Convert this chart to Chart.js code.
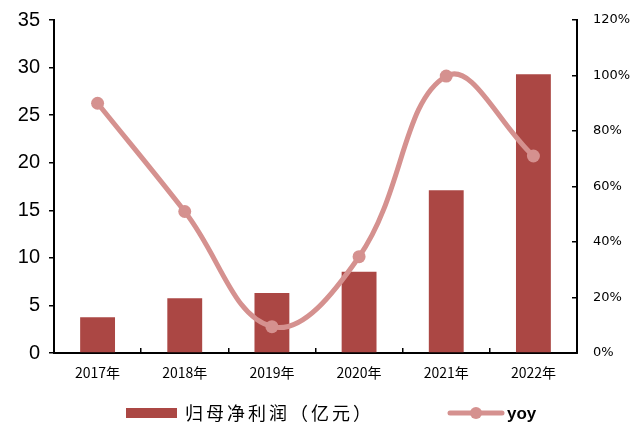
<!DOCTYPE html>
<html>
<head>
<meta charset="utf-8">
<script src="https://cdn.jsdelivr.net/npm/chart.js@4/dist/chart.umd.min.js"></script>
<style>
  body { margin: 0; background: #fff; }
  #wrap { width: 642px; height: 428px; }
</style>
</head>
<body>
<div id="wrap"><canvas id="profitChart" width="642" height="428"></canvas></div>
<script>
// Data
const years = ['2017年', '2018年', '2019年', '2020年', '2021年', '2022年'];
const netProfit = [3.75, 5.75, 6.3, 8.55, 17.1, 29.3];   // 归母净利润（亿元）
const yoy = [90, 51, 9.5, 34.7, 99.8, 71];                // %
const leftTicks = [0, 5, 10, 15, 20, 25, 30, 35];
const rightTicks = [0, 20, 40, 60, 80, 100, 120];

const barColor = '#AB4744';
const lineColor = '#D5918F';

// Legend drawn under the axes
const bottomLegend = {
  id: 'bottomLegend',
  afterDraw(chart) {
    const c = chart.ctx;
    const y = 413;
    c.save();
    // bar item
    c.fillStyle = barColor;
    c.fillRect(126, y - 5, 51, 10);
    c.fillStyle = '#000';
    c.textBaseline = 'middle';
    c.font = '18px "Noto Sans CJK SC"';
    c.letterSpacing = '3px';
    c.fillText(chart.data.datasets[0].label, 185, y);
    // line item
    c.letterSpacing = '0px';
    c.strokeStyle = lineColor;
    c.lineWidth = 5;
    c.lineCap = 'round';
    c.beginPath();
    c.moveTo(450, y);
    c.lineTo(502, y);
    c.stroke();
    c.fillStyle = lineColor;
    c.beginPath();
    c.arc(476, y, 6, 0, Math.PI * 2);
    c.fill();
    c.fillStyle = '#000';
    c.font = 'bold 17px "Liberation Sans"';
    c.fillText(chart.data.datasets[1].label, 507, y + 1);
    c.restore();
  }
};

function noPad(scale) {
  scale.paddingTop = 0;
  scale.paddingBottom = 0;
  scale.paddingLeft = 0;
  scale.paddingRight = 0;
}

const ctx = document.getElementById('profitChart').getContext('2d');
const chart = new Chart(ctx, {
  type: 'bar',
  data: {
    labels: years,
    datasets: [
      {
        type: 'bar',
        label: '归母净利润（亿元）',
        data: netProfit,
        backgroundColor: barColor,
        yAxisID: 'y',
        barPercentage: 0.4,
        categoryPercentage: 1.0,
        order: 2
      },
      {
        type: 'line',
        label: 'yoy',
        data: yoy,
        borderColor: lineColor,
        backgroundColor: lineColor,
        borderWidth: 5,
        pointRadius: 6.5,
        pointHoverRadius: 6.5,
        pointBorderWidth: 0,
        tension: 0.4,
        yAxisID: 'y1',
        order: 1
      }
    ]
  },
  plugins: [bottomLegend],
  options: {
    responsive: false,
    animation: false,
    layout: { padding: { top: 20, left: 0, right: 0, bottom: 0 } },
    plugins: {
      legend: { display: false },
      tooltip: { enabled: false }
    },
    scales: {
      x: {
        grid: { drawOnChartArea: false, drawTicks: true, tickLength: -5, color: '#000', lineWidth: 1.5 },
        border: { display: true, color: '#000', width: 2 },
        ticks: {
          color: '#000',
          padding: 16,
          font: { family: '"Noto Sans CJK SC"', size: 14 }
        },
        afterFit(scale) { noPad(scale); scale.height = 75; }
      },
      y: {
        position: 'left',
        min: 0,
        max: 35,
        afterBuildTicks(scale) { scale.ticks = leftTicks.map(v => ({ value: v })); },
        grid: { drawOnChartArea: false, drawTicks: true, tickLength: 5, color: '#000', lineWidth: 1.5 },
        border: { display: true, color: '#000', width: 2 },
        ticks: {
          color: '#000',
          padding: 9,
          font: { family: '"Liberation Sans"', size: 20 }
        },
        afterFit(scale) { noPad(scale); scale.width = 54; }
      },
      y1: {
        position: 'right',
        min: 0,
        max: 120,
        afterBuildTicks(scale) { scale.ticks = rightTicks.map(v => ({ value: v })); },
        grid: { drawOnChartArea: false, drawTicks: true, tickLength: -5, color: '#000', lineWidth: 1.5 },
        border: { display: true, color: '#000', width: 2 },
        ticks: {
          color: '#000',
          padding: 21,
          font: { family: '"DejaVu Sans"', size: 13 },
          callback: v => v + '%'
        },
        afterFit(scale) { noPad(scale); scale.width = 65; }
      }
    }
  }
});
</script>
</body>
</html>
